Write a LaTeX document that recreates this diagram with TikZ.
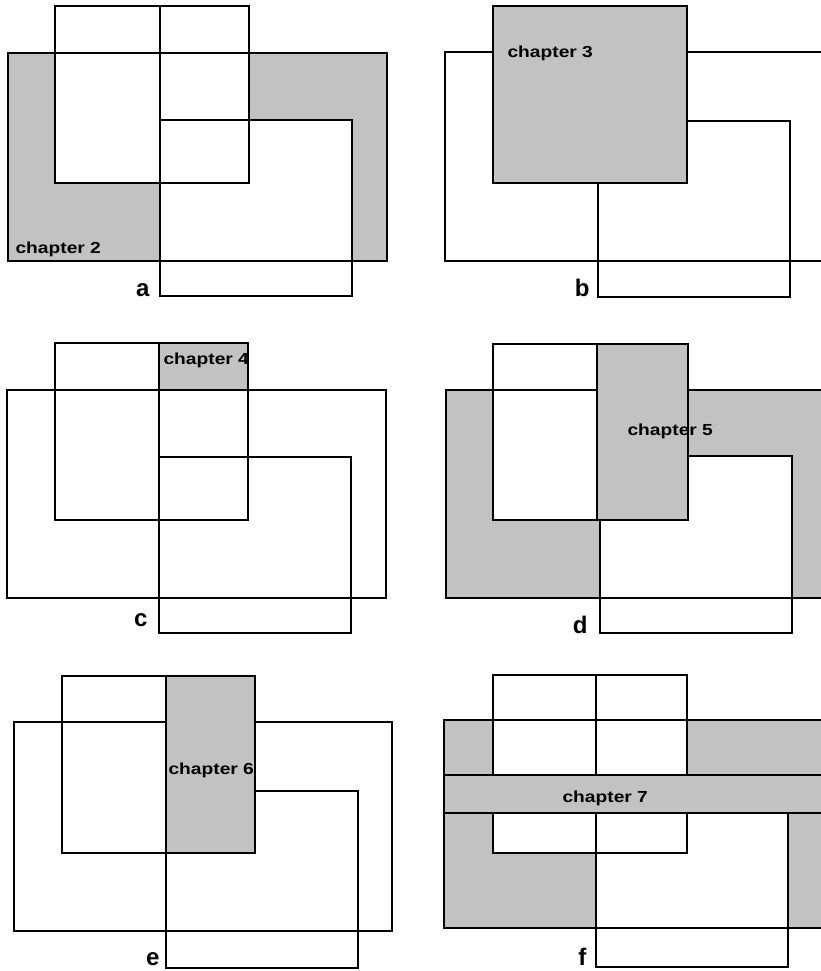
\documentclass[tikz,border=0pt]{standalone}
\usepackage{fontspec}
\setmainfont{Liberation Sans}
\definecolor{shadegray}{gray}{0.76}
\begin{document}
\begin{tikzpicture}[x=1pt,y=-1pt,line width=1.1pt,
  shaded/.style={fill=shadegray},
  blank/.style={fill=white},
  chap/.style={anchor=base west,inner sep=0pt,font=\bfseries\fontsize{16}{18}\selectfont},
  lab/.style={anchor=base east,inner sep=0pt,font=\bfseries\fontsize{24}{26}\selectfont}]
\useasboundingbox (0,0) rectangle (821,971);
\clip (0,0) rectangle (821,971);
% ---------- panel a ----------
\fill[shaded] (8,53) rectangle (387,261);
\fill[blank] (55,6) rectangle (249,183);
\fill[blank] (160,120) rectangle (352,296);
\draw (8,53) rectangle (387,261);
\draw (55,6) rectangle (249,183);
\draw (160,120) rectangle (352,296);
\draw (160,6) -- (160,120);
\node[chap] (ch2) at (15,253) {\scalebox{1.2}[1]{chapter 2}};
\node[lab] (la) at (150,296) {a};
% ---------- panel b ----------
\draw (445,52) rectangle (824,261);
\draw (598,121) rectangle (790,297);
\filldraw[shaded] (493,6) rectangle (687,183);
\node[chap] (ch3) at (507,58) {\scalebox{1.2}[1]{chapter 3}};
\node[lab] (lb) at (590,296) {b};
% ---------- panel c ----------
\fill[shaded] (159,343) rectangle (248,390);
\draw (7,390) rectangle (386,598);
\draw (55,343) rectangle (248,520);
\draw (159,457) rectangle (351,633);
\draw (159,343) -- (159,457);
\node[chap] (ch4) at (163,364) {\scalebox{1.2}[1]{chapter 4}};
\node[lab] (lc) at (148,626) {c};
% ---------- panel d ----------
\fill[shaded] (446,390) rectangle (824,598);
\fill[blank] (493,344) rectangle (597,520);
\fill[blank] (600,456) rectangle (792,633);
\draw (446,390) rectangle (824,598);
\draw (493,344) rectangle (597,520);
\draw (600,456) rectangle (792,633);
\filldraw[shaded] (597,344) rectangle (688,520);
\node[chap] (ch5) at (627,435) {\scalebox{1.2}[1]{chapter 5}};
\node[lab] (ld) at (588,633) {d};
% ---------- panel e ----------
\draw (14,722) rectangle (392,931);
\draw (62,676) rectangle (166,853);
\draw (166,791) rectangle (358,968);
\filldraw[shaded] (166,676) rectangle (255,853);
\node[chap] (ch6) at (168,774) {\scalebox{1.2}[1]{chapter 6}};
\node[lab] (le) at (160,965) {e};
% ---------- panel f ----------
\fill[shaded] (444,720) rectangle (824,928);
\fill[blank] (493,675) rectangle (687,853);
\fill[blank] (596,789) rectangle (788,967);
\draw (444,720) rectangle (824,928);
\draw (493,675) rectangle (687,853);
\draw (596,789) rectangle (788,967);
\draw (596,675) -- (596,789);
\filldraw[shaded] (444,775) rectangle (824,813);
\node[chap] (ch7) at (562,802) {\scalebox{1.2}[1]{chapter 7}};
\node[lab] (lf) at (587,965) {f};
\end{tikzpicture}
\end{document}
